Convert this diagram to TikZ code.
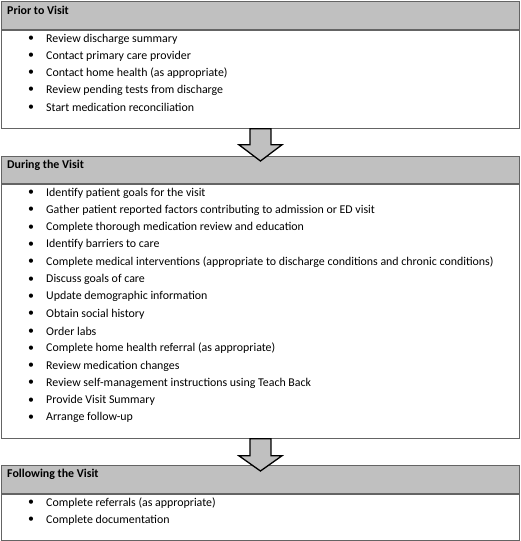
\documentclass[tikz,border=0pt]{standalone}
\usepackage{fontspec}
\setmainfont{Carlito}
\usetikzlibrary{positioning,calc}
\definecolor{boxgray}{RGB}{192,192,192}
\definecolor{edgegray}{RGB}{100,100,100}
\newcommand{\listfont}{\fontsize{11.9}{14}\selectfont}
\tikzset{
  header/.style={draw=edgegray, line width=0.9pt, fill=boxgray, minimum width=518pt, inner sep=0pt, anchor=north west},
  panel/.style={draw=edgegray, line width=0.9pt, fill=white, minimum width=518pt, inner sep=0pt, anchor=north west},
  title/.style={font=\listfont\bfseries, anchor=west, inner sep=0pt},
  bullet/.style={anchor=center, inner sep=0pt},
  item/.style={anchor=west, inner sep=0pt},
  blockarrow/.style={draw=black, fill=boxgray, line width=1.3pt, line join=miter}
}
\begin{document}
\begin{tikzpicture}[x=1pt, y=-1pt, font=\listfont]
    \useasboundingbox (0,0) rectangle (520,541);

    % Prior to Visit
    \node[header, minimum height=28pt] (priorhead) at (1,1) {};
    \node[panel, minimum height=98pt] (prior) at (priorhead.south west) {};
    \node[title] (priortitle) at ($(priorhead.north west)+(6,9)$) {Prior to Visit};
    \foreach \txt [count=\i] in {Review discharge summary, Contact primary care provider,
        Contact home health (as appropriate), Review pending tests from discharge,
        Start medication reconciliation} {
        \node[bullet] (prior-b\i) at ($(prior.north west)+(30,{9+17.1*(\i-1)})$) {\textbullet};
        \node[item] (prior-t\i) at ($(prior.north west)+(45,{9+17.1*(\i-1)})$) {\txt};
    }

    % During the Visit
    \node[header, minimum height=27pt] (duringhead) at (1,156) {};
    \node[panel, minimum height=254pt] (during) at (duringhead.south west) {};
    \node[title] (duringtitle) at ($(duringhead.north west)+(6,9)$) {During the Visit};
    \foreach \txt [count=\i] in {Identify patient goals for the visit,
        Gather patient reported factors contributing to admission or ED visit,
        Complete thorough medication review and education, Identify barriers to care,
        Complete medical interventions (appropriate to discharge conditions and chronic conditions),
        Discuss goals of care, Update demographic information, Obtain social history,
        Order labs, Complete home health referral (as appropriate),
        Review medication changes, Review self-management instructions using Teach Back,
        Provide Visit Summary, Arrange follow-up} {
        \node[bullet] (during-b\i) at ($(during.north west)+(30,{9+17.3*(\i-1)})$) {\textbullet};
        \node[item] (during-t\i) at ($(during.north west)+(45,{9+17.3*(\i-1)})$) {\txt};
    }

    % Following the Visit
    \node[header, minimum height=28pt] (followhead) at (1,465) {};
    \node[panel, minimum height=46pt] (follow) at (followhead.south west) {};
    \node[title] (followtitle) at ($(followhead.north west)+(6,9)$) {Following the Visit};
    \foreach \txt [count=\i] in {Complete referrals (as appropriate), Complete documentation} {
        \node[bullet] (follow-b\i) at ($(follow.north west)+(30,{9+17*(\i-1)})$) {\textbullet};
        \node[item] (follow-t\i) at ($(follow.north west)+(45,{9+17*(\i-1)})$) {\txt};
    }

    % Block arrows
    \draw[blockarrow] ($(prior.south)+(-10.5,0)$) -- ++(0,16) -- ++(-11,0)
        -- ($(duringhead.north)+(0,5)$) -- ($(prior.south)+(21.5,16)$)
        -- ($(prior.south)+(10.5,16)$) -- ($(prior.south)+(10.5,0)$) -- cycle;
    \draw[blockarrow] ($(during.south)+(-10.5,0)$) -- ++(0,17) -- ++(-11,0)
        -- ($(followhead.north)+(0,6)$) -- ($(during.south)+(21.5,17)$)
        -- ($(during.south)+(10.5,17)$) -- ($(during.south)+(10.5,0)$) -- cycle;
\end{tikzpicture}
\end{document}
